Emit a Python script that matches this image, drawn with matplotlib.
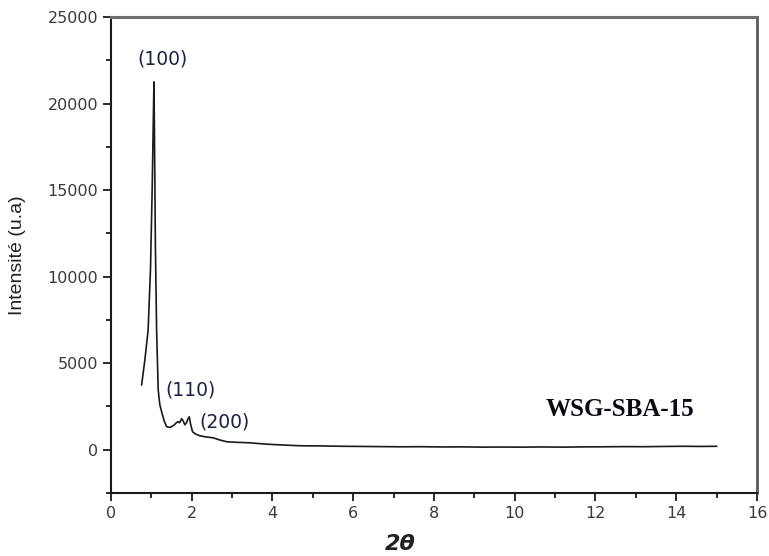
import matplotlib
matplotlib.use("Agg")
import matplotlib.pyplot as plt
from matplotlib.ticker import MultipleLocator

# Small-angle XRD pattern of WSG-SBA-15
two_theta = [0.76, 0.84, 0.92, 0.98, 1.02, 1.05, 1.065, 1.08, 1.10, 1.13, 1.17, 1.21,
             1.26, 1.32, 1.38, 1.44, 1.50, 1.56, 1.62, 1.66, 1.70, 1.75, 1.79, 1.83,
             1.87, 1.91, 1.94, 1.97, 2.02, 2.10, 2.20, 2.35, 2.53, 2.70, 2.87, 3.10,
             3.44, 3.80, 4.20, 4.68, 5.20, 5.70, 6.20, 6.70, 7.16, 7.70, 8.20, 8.70,
             9.20, 9.70, 10.20, 10.70, 11.20, 11.70, 12.20, 12.70, 13.20, 13.70,
             14.20, 14.60, 15.00]
intensity = [3750, 5200, 6900, 10500, 15000, 19200, 21250, 17500, 11800, 6930, 3460, 2600,
             2140, 1650, 1330, 1290, 1330, 1420, 1560, 1620, 1560, 1790, 1650, 1440,
             1560, 1800, 1900, 1500, 1040, 900, 810, 740, 690, 560, 460, 430,
             400, 330, 280, 230, 220, 200, 190, 180, 170, 175, 160, 165,
             150, 155, 150, 160, 150, 165, 170, 180, 175, 190, 200, 190, 200]

peak_labels = ["(100)", "(110)", "(200)"]
label_x = [1.28, 1.98, 2.82]
label_y = [22600, 3460, 1620]

fig = plt.figure(figsize=(7.69, 5.56), dpi=100)
ax = fig.add_axes([0.1443, 0.1133, 0.8401, 0.8561])

ax.plot(two_theta, intensity, color="#1a1a1a", lw=1.2)

ax.set_xlim(0, 16)
ax.set_ylim(-2500, 25000)
ax.xaxis.set_major_locator(MultipleLocator(2))
ax.xaxis.set_minor_locator(MultipleLocator(1))
ax.yaxis.set_major_locator(MultipleLocator(5000))
ax.yaxis.set_minor_locator(MultipleLocator(2500))

ax.tick_params(which="both", direction="out", width=1.3, color="#1a1a1a",
               labelsize=11.5, labelcolor="#3a3a3a", pad=3)
ax.tick_params(which="major", length=6)
ax.tick_params(which="minor", length=3.5)
for lab in ax.get_xticklabels() + ax.get_yticklabels():
    lab.set_fontfamily("DejaVu Sans")

ax.spines["left"].set_color("#1a1a1a")
ax.spines["bottom"].set_color("#1a1a1a")
ax.spines["left"].set_linewidth(1.5)
ax.spines["bottom"].set_linewidth(1.5)
ax.spines["top"].set_color("#6e6e6e")
ax.spines["right"].set_color("#5a5a5a")
ax.spines["top"].set_linewidth(2.2)
ax.spines["right"].set_linewidth(2.0)

for txt, x, y in zip(peak_labels, label_x, label_y):
    ax.text(x, y, txt, ha="center", va="center", fontsize=13.5,
            color="#1c2340", family="DejaVu Sans")

ax.text(12.6, 2310, "WSG-SBA-15", ha="center", va="center", fontsize=18,
        fontweight="bold", family="Liberation Serif", color="#0a0a14")

fig.text(400 / 769, 1 - 544 / 556, "2θ", ha="center", va="center",
         fontsize=16, fontweight="bold", fontstyle="italic",
         family="DejaVu Sans", color="#222222")
fig.text(18 / 769, 1 - 255 / 556, "Intensité (u.a)", ha="center", va="center",
         rotation=90, fontsize=14, family="Liberation Sans", color="#222222")

fig.savefig("out.png", dpi=100)
